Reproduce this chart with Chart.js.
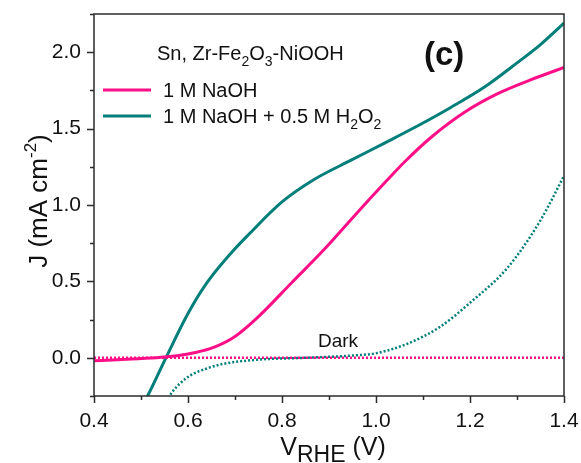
<!DOCTYPE html>
<html>
<head>
<meta charset="utf-8">
<script src="https://cdn.jsdelivr.net/npm/chart.js@4/dist/chart.umd.min.js"></script>
<style>
  html, body { margin: 0; padding: 0; background: #fff; }
  #wrap { width: 581px; height: 463px; }
</style>
</head>
<body>
<div id="wrap"><canvas id="jv" width="581" height="463"></canvas></div>
<script>
  'use strict';

  // V vs RHE (V) and current density J (mA cm-2)
  var naohX = [0.40, 0.45, 0.50, 0.55, 0.60, 0.63, 0.66, 0.70, 0.75, 0.82, 0.89, 0.96, 1.02, 1.06, 1.12, 1.19, 1.26, 1.33, 1.40];
  var naohY = [-0.02, -0.012, -0.005, 0.005, 0.025, 0.045, 0.075, 0.14, 0.27, 0.49, 0.71, 0.95, 1.15, 1.28, 1.45, 1.61, 1.73, 1.82, 1.90];

  var h2o2X = [0.49, 0.514, 0.553, 0.60, 0.64, 0.69, 0.73, 0.80, 0.87, 0.945, 1.015, 1.09, 1.16, 1.23, 1.30, 1.35, 1.40];
  var h2o2Y = [-0.38, -0.25, 0.0, 0.29, 0.49, 0.68, 0.81, 1.02, 1.17, 1.29, 1.40, 1.52, 1.64, 1.77, 1.93, 2.05, 2.19];

  // dark currents (dotted)
  var darkNaohX = [0.40, 0.80, 1.20, 1.40];
  var darkNaohY = [0.0, 0.0, 0.0, 0.0];

  var darkH2o2X = [0.55, 0.565, 0.60, 0.64, 0.675, 0.75, 0.85, 0.95, 1.00, 1.065, 1.135, 1.20, 1.28, 1.35, 1.40];
  var darkH2o2Y = [-0.31, -0.23, -0.125, -0.07, -0.04, -0.012, 0.0, 0.015, 0.03, 0.09, 0.20, 0.36, 0.59, 0.90, 1.19];

  var xTickValues = [0.4, 0.6, 0.8, 1.0, 1.2, 1.4];
  var yTickValues = [0.0, 0.5, 1.0, 1.5, 2.0];

  var PINK = '#FF0F87';
  var TEAL = '#007F7A';
  var FONT = '"Liberation Sans", Arial, sans-serif';

  function pts(xs, ys) {
    return xs.map(function (x, i) { return { x: x, y: ys[i] }; });
  }

  // draw a run of text pieces (for sub/superscripts)
  function drawRich(ctx, parts, x, y) {
    var cx = x;
    parts.forEach(function (p) {
      ctx.font = (p.bold ? 'bold ' : '') + p.size + 'px ' + FONT;
      ctx.fillText(p.t, cx, y + (p.dy || 0));
      cx += ctx.measureText(p.t).width;
    });
    return cx - x;
  }
  function richWidth(ctx, parts) {
    var w = 0;
    parts.forEach(function (p) {
      ctx.font = (p.bold ? 'bold ' : '') + p.size + 'px ' + FONT;
      w += ctx.measureText(p.t).width;
    });
    return w;
  }

  // no extra room for overhanging tick labels, the layout padding sets the box
  function noPad(scale) {
    scale.paddingTop = 0;
    scale.paddingBottom = 0;
    scale.paddingLeft = 0;
    scale.paddingRight = 0;
  }

  var decor = {
    id: 'decor',
    afterDraw: function (chart) {
      var ctx = chart.ctx;
      var a = chart.chartArea;
      var xs = chart.scales.x;
      var ys = chart.scales.y;
      ctx.save();

      // frame
      ctx.strokeStyle = '#2b2b2b';
      ctx.lineWidth = 1.5;
      ctx.strokeRect(a.left, a.top, a.right - a.left, a.bottom - a.top);

      // ticks, outward
      ctx.beginPath();
      for (var v = 0.4; v <= 1.4001; v += 0.1) {
        var px = Math.round(xs.getPixelForValue(v)) + 0.5;
        var major = Math.abs(Math.round(v * 10) % 2) === 0;
        ctx.moveTo(px, a.bottom);
        ctx.lineTo(px, a.bottom + (major ? 7 : 4));
      }
      for (var w = -0.25; w <= 2.2501; w += 0.25) {
        var py = Math.round(ys.getPixelForValue(w)) + 0.5;
        var maj = Math.abs(Math.round(w * 4) % 2) === 0;
        ctx.moveTo(a.left, py);
        ctx.lineTo(a.left - (maj ? 7 : 4), py);
      }
      ctx.stroke();

      ctx.fillStyle = '#111';
      ctx.textBaseline = 'alphabetic';
      ctx.textAlign = 'left';

      // x title: V_RHE (V)
      var xt = [{ t: 'V', size: 25 }, { t: 'RHE', size: 23, dy: 7 }, { t: ' (V)', size: 25 }];
      var xw = richWidth(ctx, xt);
      drawRich(ctx, xt, (a.left + a.right) / 2 - xw / 2 + 4, 455);

      // y title: J (mA cm^-2)
      var yt = [{ t: 'J (mA cm', size: 26 }, { t: '-2', size: 17, dy: -11 }, { t: ')', size: 26 }];
      var yw = richWidth(ctx, yt);
      ctx.save();
      ctx.translate(47, 201);
      ctx.rotate(-Math.PI / 2);
      drawRich(ctx, yt, -yw / 2, 0);
      ctx.restore();

      // legend title
      drawRich(ctx, [
        { t: 'Sn, Zr-Fe', size: 20 }, { t: '2', size: 14, dy: 6 }, { t: 'O', size: 20 },
        { t: '3', size: 14, dy: 6 }, { t: '-NiOOH', size: 20 }
      ], 157, 60);

      // legend entries
      ctx.lineWidth = 3;
      ctx.strokeStyle = PINK;
      ctx.beginPath(); ctx.moveTo(103, 90); ctx.lineTo(151, 90); ctx.stroke();
      ctx.strokeStyle = TEAL;
      ctx.beginPath(); ctx.moveTo(103, 116); ctx.lineTo(151, 116); ctx.stroke();
      drawRich(ctx, [{ t: '1 M NaOH', size: 20 }], 163, 97);
      drawRich(ctx, [
        { t: '1 M NaOH + 0.5 M H', size: 20 }, { t: '2', size: 14, dy: 6 },
        { t: 'O', size: 20 }, { t: '2', size: 14, dy: 6 }
      ], 163, 123);

      // panel letter
      drawRich(ctx, [{ t: '(c)', size: 33, bold: true }], 424, 65);

      // dark label
      drawRich(ctx, [{ t: 'Dark', size: 19 }], 318, 347);

      ctx.restore();
    }
  };

  var ctx = document.getElementById('jv').getContext('2d');
  var chart = new Chart(ctx, {
    type: 'line',
    data: {
      datasets: [{
        label: 'Dark NaOH',
        data: pts(darkNaohX, darkNaohY),
        borderColor: PINK,
        borderWidth: 2.5,
        borderDash: [2, 2],
        pointRadius: 0
      }, {
        label: 'Dark NaOH + H2O2',
        data: pts(darkH2o2X, darkH2o2Y),
        borderColor: TEAL,
        borderWidth: 2.5,
        borderDash: [2, 2],
        pointRadius: 0,
        cubicInterpolationMode: 'monotone'
      }, {
        label: '1 M NaOH',
        data: pts(naohX, naohY),
        borderColor: PINK,
        borderWidth: 3,
        pointRadius: 0,
        cubicInterpolationMode: 'monotone'
      }, {
        label: '1 M NaOH + 0.5 M H2O2',
        data: pts(h2o2X, h2o2Y),
        borderColor: TEAL,
        borderWidth: 3,
        pointRadius: 0,
        cubicInterpolationMode: 'monotone'
      }]
    },
    options: {
      responsive: false,
      animation: false,
      layout: { padding: { top: 14, right: 17, left: 0, bottom: 0 } },
      plugins: {
        legend: { display: false },
        tooltip: { enabled: false }
      },
      scales: {
        x: {
          type: 'linear',
          min: 0.4,
          max: 1.4,
          afterBuildTicks: function (scale) {
            scale.ticks = xTickValues.map(function (v) { return { value: v }; });
          },
          afterFit: function (scale) { scale.height = 67; noPad(scale); },
          grid: { display: false, drawTicks: false },
          border: { display: false },
          ticks: {
            padding: 13,
            color: '#111',
            font: { family: FONT, size: 21 },
            maxRotation: 0,
            callback: function (v) { return Number(v).toFixed(1); }
          }
        },
        y: {
          type: 'linear',
          min: -0.25,
          max: 2.25,
          afterBuildTicks: function (scale) {
            scale.ticks = yTickValues.map(function (v) { return { value: v }; });
          },
          afterFit: function (scale) { scale.width = 94; noPad(scale); },
          grid: { display: false, drawTicks: false },
          border: { display: false },
          ticks: {
            padding: 13,
            color: '#111',
            font: { family: FONT, size: 21 },
            callback: function (v) { return Number(v).toFixed(1); }
          }
        }
      }
    },
    plugins: [decor]
  });
</script>
</body>
</html>
